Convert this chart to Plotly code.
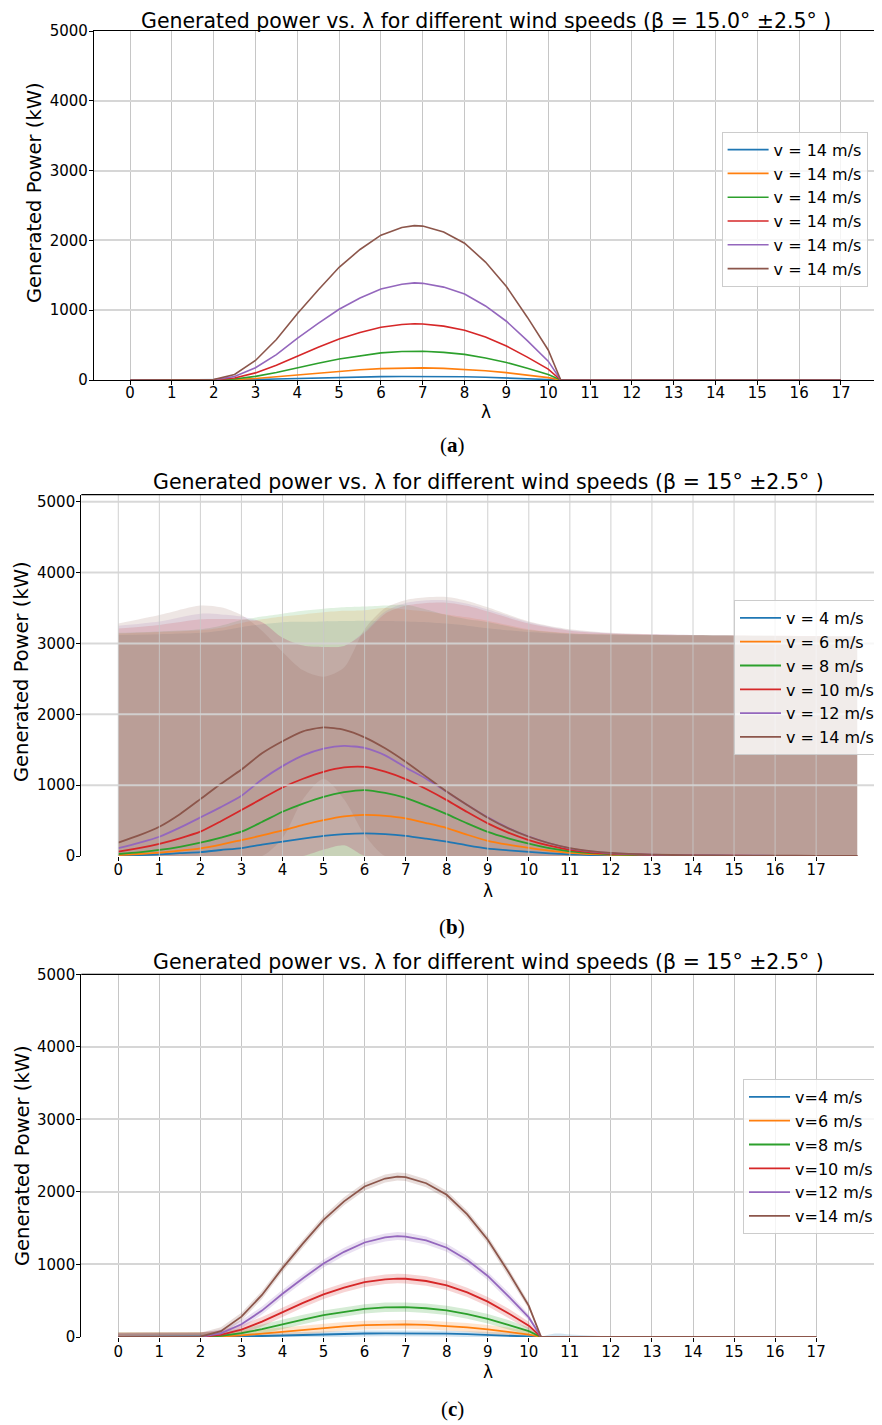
import plotly.graph_objects as go

W, H = 882, 1425
OFF = 8  # page body margin: figure origin sits at (8, 8) in the screenshot

# ---------------- shared ----------------
colors = ['#1f77b4', '#ff7f0e', '#2ca02c', '#d62728', '#9467bd', '#8c564b']
speeds = [4, 6, 8, 10, 12, 14]
labels_a = ['v = 14 m/s', 'v = 14 m/s', 'v = 14 m/s', 'v = 14 m/s', 'v = 14 m/s', 'v = 14 m/s']
labels_b = ['v = 4 m/s', 'v = 6 m/s', 'v = 8 m/s', 'v = 10 m/s', 'v = 12 m/s', 'v = 14 m/s']
labels_c = ['v=4 m/s', 'v=6 m/s', 'v=8 m/s', 'v=10 m/s', 'v=12 m/s', 'v=14 m/s']
lam_ticks = list(range(0, 18))
power_ticks = [0, 1000, 2000, 3000, 4000, 5000]

title_a = 'Generated power vs. λ for different wind speeds (β = 15.0° ±2.5° )'
title_bc = 'Generated power vs. λ for different wind speeds (β = 15° ±2.5° )'

# ---------------- panels (a) and (c): mean power curves ----------------
lam_ac = [0, 0.5, 1, 1.5, 2, 2.5, 3, 3.5, 4, 4.5, 5, 5.5, 6, 6.5, 6.8, 7, 7.5, 8, 8.5, 9, 9.5, 10, 10.3,
          11, 12, 13, 14, 15, 16, 17]
p_ac_v4 = [0, 0, 0, 0, 0, 2, 7, 14, 22, 30, 38, 44, 48, 51, 52, 51, 49, 46, 39, 31, 21, 10, 0,
           0, 0, 0, 0, 0, 0, 0]
p_ac_v6 = [0, 0, 0, 0, 0, 6, 22, 46, 75, 102, 127, 147, 163, 172, 175, 174, 167, 154, 133, 105, 71, 34, 0,
           0, 0, 0, 0, 0, 0, 0]
p_ac_v8 = [0, 0, 0, 0, 1, 15, 52, 108, 178, 241, 302, 350, 388, 409, 414, 412, 396, 367, 316, 251, 168, 80, 0,
           0, 0, 0, 0, 0, 0, 0]
p_ac_v10 = [0, 0, 0, 0, 2, 29, 102, 211, 346, 470, 588, 681, 755, 795, 806, 803, 772, 713, 615, 488, 328, 157, 0,
            0, 0, 0, 0, 0, 0, 0]
p_ac_v12 = [0, 0, 0, 0, 3, 50, 176, 364, 597, 810, 1014, 1174, 1303, 1372, 1391, 1385, 1331, 1231, 1061, 842, 565,
            270, 0, 0, 0, 0, 0, 0, 0, 0]
p_ac_v14 = [0, 0, 0, 0, 5, 80, 280, 580, 950, 1290, 1615, 1870, 2075, 2185, 2212, 2205, 2120, 1960, 1690, 1340, 900,
            430, 0, 0, 0, 0, 0, 0, 0, 0]
p_ac = [p_ac_v4, p_ac_v6, p_ac_v8, p_ac_v10, p_ac_v12, p_ac_v14]

# panel (c) band half-widths (kW) and relative band width along λ
band_c_hw = [40, 60, 65, 65, 55, 55]
band_c_shape = [1, 1, 1, 1, 1, 1, 1, 1, 1, 1, 1, 1, 1, 1, 1, 1, 1, 1, 1, 1, 1, 0.8, 0, 0, 0, 0, 0, 0, 0, 0]
lam_tail_c = [10.3, 10.6, 11, 11.5, 12, 12.3]
tail_c_upper = [0, 45, 35, 20, 8, 0]

# ---------------- panel (b): mean power curves ----------------
lam_b = [0, 0.5, 1, 1.5, 2, 2.5, 3, 3.5, 4, 4.5, 5, 5.5, 6, 6.5, 7, 7.5, 8, 8.5, 9, 9.5, 10, 10.5,
         11, 11.5, 12, 13, 14, 15, 16, 17, 18]
p_b_v4 = [5, 12, 23, 40, 55, 85, 112, 160, 202, 245, 284, 310, 320, 310, 285, 245, 202, 150, 105, 80, 58, 38,
          23, 14, 8, 4, 2, 1, 1, 0, 0]
p_b_v6 = [14, 28, 47, 75, 108, 160, 225, 290, 360, 440, 507, 560, 580, 565, 530, 465, 395, 300, 215, 160, 115, 75,
          45, 28, 17, 8, 4, 2, 1, 1, 0]
p_b_v8 = [28, 52, 85, 130, 188, 260, 343, 480, 624, 740, 836, 900, 930, 890, 820, 710, 590, 460, 340, 250, 175, 110,
          64, 40, 25, 11, 5, 3, 2, 1, 1]
p_b_v10 = [61, 110, 172, 250, 343, 490, 648, 810, 967, 1090, 1188, 1250, 1258, 1190, 1085, 945, 789, 620, 460, 330,
           225, 145, 88, 52, 32, 14, 7, 4, 2, 1, 1]
p_b_v12 = [110, 185, 272, 400, 545, 690, 850, 1080, 1268, 1420, 1516, 1555, 1525, 1420, 1250, 1090, 906, 720, 545,
           395, 275, 180, 108, 66, 40, 18, 9, 5, 3, 2, 1]
p_b_v14 = [188, 290, 413, 590, 803, 1020, 1220, 1450, 1620, 1760, 1815, 1780, 1675, 1520, 1330, 1120, 910, 720, 540,
           390, 272, 180, 112, 70, 45, 20, 10, 6, 4, 3, 2]
p_b = [p_b_v4, p_b_v6, p_b_v8, p_b_v10, p_b_v12, p_b_v14]

# panel (b): uncertainty bands (upper / lower)
lam_band_b = [0, 1, 2, 2.5, 3, 3.5, 4, 4.5, 5, 5.5, 6, 6.5, 7, 7.5, 8, 8.5, 9, 10, 11, 12, 13, 14, 15, 16, 17, 18]
up_b_v4 = [3120, 3130, 3150, 3180, 3230, 3270, 3300, 3305, 3310, 3315, 3320, 3315, 3310, 3300, 3280, 3250, 3215,
           3160, 3130, 3122, 3118, 3114, 3110, 3106, 3103, 3100]
up_b_v6 = [3140, 3160, 3185, 3220, 3290, 3340, 3380, 3410, 3440, 3460, 3470, 3500, 3480, 3450, 3410, 3370, 3320,
           3200, 3145, 3128, 3120, 3115, 3111, 3107, 3104, 3101]
up_b_v8 = [3150, 3170, 3200, 3250, 3330, 3380, 3420, 3460, 3490, 3510, 3520, 3535, 3545, 3480, 3400, 3340, 3300,
           3190, 3140, 3126, 3119, 3114, 3110, 3106, 3103, 3100]
up_b_v10 = [3210, 3260, 3340, 3345, 3340, 3300, 3080, 2970, 2950, 2965, 3150, 3420, 3530, 3570, 3575, 3530, 3450,
            3280, 3180, 3140, 3125, 3117, 3112, 3108, 3104, 3101]
up_b_v12 = [3250, 3310, 3420, 3410, 3380, 3300, 3080, 2970, 2950, 2965, 3170, 3450, 3570, 3610, 3610, 3560, 3480,
            3300, 3190, 3145, 3128, 3119, 3113, 3108, 3104, 3101]
up_b_v14 = [3280, 3400, 3535, 3510, 3400, 3180, 2880, 2620, 2530, 2660, 3200, 3500, 3610, 3650, 3655, 3600, 3510,
            3310, 3200, 3150, 3130, 3120, 3114, 3108, 3104, 3101]
lo_b_v4 = [0] * 26
lo_b_v6 = [0] * 26
lo_b_v8 = [0] * 26
lo_b_v10 = [0, 0, 0, 0, 0, 0, 0, 0, 90, 150, 0, 0, 0, 0, 0, 0, 0, 0, 0, 0, 0, 0, 0, 0, 0, 0]
lo_b_v12 = [0, 0, 0, 0, 0, 0, 0, 0, 90, 150, 0, 0, 0, 0, 0, 0, 0, 0, 0, 0, 0, 0, 0, 0, 0, 0]
lo_b_v14 = [0, 0, 0, 0, 0, 0, 250, 800, 1085, 800, 300, 0, 0, 0, 0, 0, 0, 0, 0, 0, 0, 0, 0, 0, 0, 0]
up_b = [up_b_v4, up_b_v6, up_b_v8, up_b_v10, up_b_v12, up_b_v14]
lo_b = [lo_b_v4, lo_b_v6, lo_b_v8, lo_b_v10, lo_b_v12, lo_b_v14]


def rgba(hexc, a):
    h = hexc.lstrip('#')
    return 'rgba(%d,%d,%d,%s)' % (int(h[0:2], 16), int(h[2:4], 16), int(h[4:6], 16), a)


def px_x(x):
    return (x - OFF) / W


def px_y(y):
    return 1 - (y - OFF) / H


FONT = 'DejaVu Sans'
fig = go.Figure()

# ---------- panel (a) ----------
for i in range(6):
    fig.add_trace(go.Scatter(x=lam_ac, y=p_ac[i], mode='lines', name=labels_a[i],
                             line=dict(color=colors[i], width=1.6),
                             xaxis='x', yaxis='y', legend='legend'))

# ---------- panel (b) ----------
for i in range(6):
    fig.add_trace(go.Scatter(x=lam_band_b, y=lo_b[i], mode='lines', line=dict(width=0, shape='spline', smoothing=0.8),
                             showlegend=False, hoverinfo='skip', xaxis='x2', yaxis='y2'))
    fig.add_trace(go.Scatter(x=lam_band_b, y=up_b[i], mode='lines', line=dict(width=0, shape='spline', smoothing=0.8),
                             fill='tonexty', fillcolor=rgba(colors[i], 0.15),
                             showlegend=False, hoverinfo='skip', xaxis='x2', yaxis='y2'))
for i in range(6):
    fig.add_trace(go.Scatter(x=lam_b, y=p_b[i], mode='lines', name=labels_b[i],
                             line=dict(color=colors[i], width=1.8, shape='spline', smoothing=0.6),
                             xaxis='x2', yaxis='y2', legend='legend2'))

# ---------- panel (c) ----------
for i in range(6):
    lo = [m - band_c_hw[i] * s for m, s in zip(p_ac[i], band_c_shape)]
    up = [m + band_c_hw[i] * s for m, s in zip(p_ac[i], band_c_shape)]
    fig.add_trace(go.Scatter(x=lam_ac, y=lo, mode='lines', line=dict(width=0),
                             showlegend=False, hoverinfo='skip', xaxis='x3', yaxis='y3'))
    fig.add_trace(go.Scatter(x=lam_ac, y=up, mode='lines', line=dict(width=0),
                             fill='tonexty', fillcolor=rgba(colors[i], 0.2),
                             showlegend=False, hoverinfo='skip', xaxis='x3', yaxis='y3'))
fig.add_trace(go.Scatter(x=lam_tail_c, y=tail_c_upper, mode='lines', line=dict(width=0, shape='spline'),
                         fill='tozeroy', fillcolor=rgba(colors[0], 0.2),
                         showlegend=False, hoverinfo='skip', xaxis='x3', yaxis='y3'))
for i in range(6):
    fig.add_trace(go.Scatter(x=lam_ac, y=p_ac[i], mode='lines', name=labels_c[i],
                             line=dict(color=colors[i], width=1.8),
                             xaxis='x3', yaxis='y3', legend='legend3'))

# ---------- axes ----------
tickfont = dict(family=FONT, size=15, color='black')
xgrid = '#c6c6c6'
ygrid = '#d6d6d6'


def xaxis(domain, rng, anchor, grid=True, line=True, mirror=False, standoff=-4):
    return dict(domain=domain, range=rng, anchor=anchor, tickmode='array', tickvals=lam_ticks,
                ticks='outside', ticklen=4, tickcolor='black', tickfont=tickfont, ticklabelstandoff=standoff,
                showgrid=grid, gridcolor=xgrid, gridwidth=1, zeroline=False,
                showline=line, linecolor='black', linewidth=1.2, mirror=mirror, automargin=False)


def yaxis(domain, rng, anchor, grid=True, mirror=False):
    return dict(domain=domain, range=rng, anchor=anchor, tickmode='array', tickvals=power_ticks,
                ticks='outside', ticklen=4, tickcolor='black', tickfont=tickfont, ticklabelstandoff=-2,
                showgrid=grid, gridcolor=ygrid, gridwidth=2, zeroline=False,
                showline=True, linecolor='black', linewidth=1.2, mirror=mirror, automargin=False)


# panel (b)/(c) x scale: λ=0 at 118.3 px, 41.05 px per unit; plot extends to the figure's right edge
xr_left = (81.3 - 118.3) / 41.05
xr_right = (OFF + W - 118.3) / 41.05

fig.update_layout(
    width=W, height=H, margin=dict(l=0, r=0, t=0, b=0, pad=0, autoexpand=False),
    paper_bgcolor='white', plot_bgcolor='white',
    font=dict(family=FONT, color='black'),
    xaxis=xaxis([px_x(94), px_x(878)], [-0.861, 17.886], 'y', mirror=True, standoff=-5),
    yaxis=yaxis([px_y(380), px_y(31)], [0, 5000], 'x', mirror=True),
    xaxis2=xaxis([px_x(81.3), 1.0], [xr_left, xr_right], 'y2', grid=False, line=False, standoff=-4),
    yaxis2=yaxis([px_y(856), px_y(494.7)], [0, 5099], 'x2', grid=False),
    xaxis3=xaxis([px_x(81.3), 1.0], [xr_left, xr_right], 'y3', line=False, standoff=-3),
    yaxis3=yaxis([px_y(1337), px_y(974.3)], [0, 5000], 'x3'),
)

legend_common = dict(bgcolor='rgba(255,255,255,0.8)', bordercolor='#cccccc', borderwidth=1,
                     font=dict(family=FONT, size=16, color='black'), xanchor='left', yanchor='top',
                     tracegroupgap=0, itemwidth=41, traceorder='normal')
fig.update_layout(
    legend=dict(x=px_x(721.6), y=px_y(131.7), **legend_common),
    legend2=dict(x=px_x(734), y=px_y(600), **legend_common),
    legend3=dict(x=px_x(743), y=px_y(1079), **legend_common),
)

# ---------- panel (b) grid drawn over the filled bands ----------
shapes = []
for t in lam_ticks:
    shapes.append(dict(type='line', xref='x2', yref='y2 domain', x0=t, x1=t, y0=0, y1=1,
                       line=dict(color='rgba(200,200,200,0.85)', width=1), layer='above'))
for p in power_ticks[1:]:
    shapes.append(dict(type='line', xref='x2 domain', yref='y2', x0=0, x1=1, y0=p, y1=p,
                       line=dict(color='rgba(212,212,212,0.9)', width=2), layer='above'))
# top spines of (b) and (c)
for ax in ['x2', 'x3']:
    yr = 'y2 domain' if ax == 'x2' else 'y3 domain'
    shapes.append(dict(type='line', xref=ax + ' domain', yref=yr, x0=0, x1=1, y0=1, y1=1,
                       line=dict(color='black', width=1.2), layer='above'))
fig.update_layout(shapes=shapes)

# ---------- texts ----------
ann = []
for (tx, cx, cy) in [(title_a, 486, 21.5), (title_bc, 488, 482), (title_bc, 488, 962)]:
    ann.append(dict(text=tx, x=px_x(cx), y=px_y(cy), xref='paper', yref='paper', showarrow=False,
                    xanchor='center', yanchor='middle', font=dict(family=FONT, size=20.5, color='black')))
for (cx, cy) in [(486, 412), (488, 891), (488, 1372)]:
    ann.append(dict(text='λ', x=px_x(cx), y=px_y(cy), xref='paper', yref='paper', showarrow=False,
                    xanchor='center', yanchor='middle', font=dict(family=FONT, size=17, color='black')))
for (cx, cy) in [(35, 193), (22, 672), (22, 1156)]:
    ann.append(dict(text='Generated Power (kW)', x=px_x(cx), y=px_y(cy), xref='paper', yref='paper',
                    showarrow=False, textangle=-90, xanchor='center', yanchor='middle',
                    font=dict(family=FONT, size=19.5, color='black')))
for (lab, cy) in [('a', 445), ('b', 927), ('c', 1409)]:
    ann.append(dict(text='(<b>%s</b>)' % lab, x=px_x(452), y=px_y(cy), xref='paper', yref='paper',
                    showarrow=False, xanchor='center', yanchor='middle',
                    font=dict(family='Liberation Serif', size=21, color='black')))
fig.update_layout(annotations=ann)

fig.write_html('out.html')
